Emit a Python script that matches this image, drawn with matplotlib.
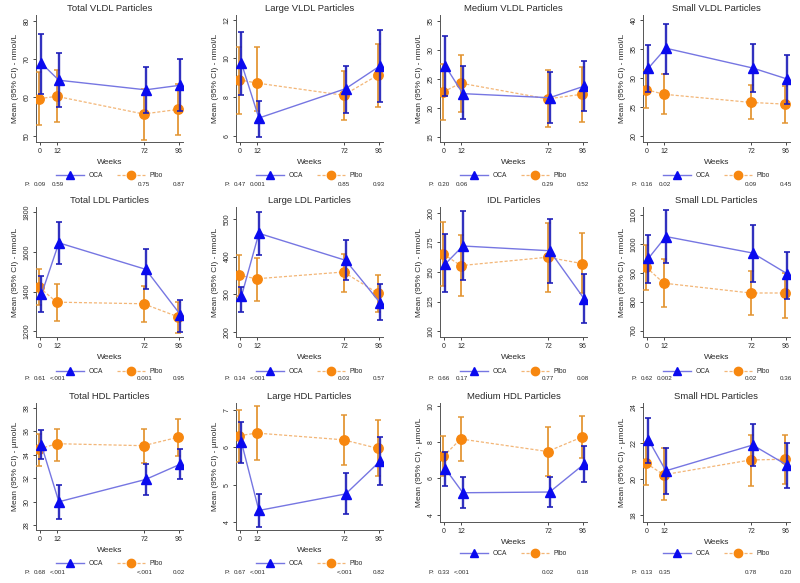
import matplotlib as mpl
mpl.use('Agg')
import matplotlib.pyplot as plt
import matplotlib.transforms as mtransforms
from matplotlib.lines import Line2D

plt.rcParams['font.family'] = ['Liberation Sans', 'DejaVu Sans']

weeks = [0, 12, 72, 96]

titles = ["Total VLDL Particles", "Large VLDL Particles", "Medium VLDL Particles", "Small VLDL Particles",
          "Total LDL Particles", "Large LDL Particles", "IDL Particles", "Small LDL Particles",
          "Total HDL Particles", "Large HDL Particles", "Medium HDL Particles", "Small HDL Particles"]
units = ["nmol/L"] * 8 + ["\u00b5mol/L"] * 4

# OCA: mean, lower CI, upper CI
oca_mean = [[68.9, 64.5, 62.0, 63.2], [9.75, 6.92, 8.44, 9.63], [27.2, 22.5, 21.8, 23.8], [31.7, 35.1, 31.7, 29.8],
            [1387, 1645, 1512, 1284], [295, 462, 390, 276], [157, 172, 168, 127], [950, 1025, 968, 896],
            [34.8, 30.0, 31.9, 33.2], [6.13, 4.32, 4.76, 5.64], [6.52, 5.21, 5.25, 6.80], [22.15, 20.44, 21.87, 20.74]]
oca_lo = [[61.0, 57.6, 56.0, 56.5], [8.1, 5.92, 7.17, 7.73], [22.1, 18.1, 17.5, 19.6], [27.5, 30.7, 27.5, 25.6],
          [1298, 1537, 1413, 1197], [252, 404, 338, 231], [132.7, 142.9, 140.6, 106.5], [864, 934, 869, 809],
          [33.6, 28.57, 30.57, 31.91], [5.57, 3.87, 4.23, 5.01], [5.58, 4.38, 4.44, 5.82], [20.88, 19.18, 20.70, 19.50]]
oca_hi = [[76.5, 71.6, 68.0, 70.1], [11.37, 7.81, 9.63, 11.49], [32.4, 27.3, 26.2, 28.1], [35.7, 39.2, 35.8, 33.9],
          [1476, 1752, 1612, 1360], [319, 520, 443, 326], [181.8, 201.7, 195.2, 148.3], [1031, 1116, 1066, 971],
          [36.1, 31.43, 33.23, 34.49], [6.67, 4.77, 5.32, 6.27], [7.45, 6.06, 6.06, 7.76], [23.36, 21.68, 23.04, 22.0]]

# Placebo: mean, lower CI, upper CI
plb_mean = [[59.7, 60.3, 55.7, 56.9], [8.90, 8.73, 8.10, 9.15], [22.8, 24.3, 21.6, 22.4], [28.0, 27.2, 25.8, 25.5],
            [1421, 1347, 1339, 1273], [350, 341, 359, 302], [165.3, 155.4, 162.5, 157.1], [919, 864, 830, 830],
            [34.49, 34.94, 34.77, 35.49], [6.31, 6.38, 6.20, 5.97], [7.21, 8.17, 7.48, 8.28], [20.85, 20.22, 21.04, 21.08]]
plb_lo = [[52.8, 53.6, 49.0, 50.2], [7.12, 7.29, 6.83, 7.47], [18.0, 19.4, 16.8, 17.6], [24.9, 23.8, 23.0, 22.3],
          [1331, 1250, 1248, 1193], [295, 283, 306, 252], [138.4, 129.3, 133.5, 132.1], [840, 783, 754, 745],
          [33.06, 33.51, 33.34, 33.86], [5.61, 5.66, 5.52, 5.23], [6.14, 6.97, 6.14, 7.15], [19.66, 18.80, 19.57, 19.72]]
plb_hi = [[66.7, 67.1, 62.2, 63.6], [10.61, 10.61, 9.37, 10.76], [27.6, 29.2, 26.6, 27.0], [31.3, 30.7, 28.8, 28.6],
          [1512, 1438, 1430, 1350], [403, 395, 407, 350], [192.3, 181.0, 191.8, 183.2], [997, 948, 905, 899],
          [35.8, 36.2, 36.2, 37.06], [6.99, 7.10, 6.85, 6.72], [8.31, 9.38, 8.81, 9.42], [22.04, 21.68, 22.43, 22.43]]

p_values = [["0.09", "0.59", "0.75", "0.87"], ["0.47", "0.001", "0.85", "0.93"],
            ["0.20", "0.06", "0.29", "0.52"], ["0.16", "0.02", "0.09", "0.45"],
            ["0.61", "<.001", "0.001", "0.95"], ["0.14", "<.001", "0.03", "0.57"],
            ["0.66", "0.17", "0.77", "0.08"], ["0.62", "0.002", "0.02", "0.36"],
            ["0.68", "<.001", "<.001", "0.02"], ["0.67", "<.001", "<.001", "0.82"],
            ["0.33", "<.001", "0.02", "0.18"], ["0.13", "0.35", "0.78", "0.20"]]

yticks = [[50, 60, 70, 80], [6, 8, 10, 12], [15, 20, 25, 30, 35], [20, 25, 30, 35, 40],
          [1200, 1400, 1600, 1800], [200, 300, 400, 500], [100, 125, 150, 175, 200], [700, 800, 900, 1000, 1100],
          [28, 30, 32, 34, 36, 38], [4, 5, 6, 7], [4, 6, 8, 10], [18, 20, 22, 24]]
ylims = [(48.4, 81.5), (5.68, 12.25), (14.2, 36.0), (19.0, 40.8),
         (1172, 1825), (186, 532), (95, 205), (678, 1127),
         (27.6, 38.4), (3.8, 7.18), (3.6, 10.15), (17.6, 24.2)]

W, H = 800.0, 583.0
col_left = [36, 236, 440, 643]
ax_w = 147
row_top = [15, 207, 403]
row_bot = [142, 337, 530]

oca_mk, oca_err, oca_line = "#0a0aef", "#1c1cb8", "#7676e2"
plb_mk, plb_err, plb_line = "#f7870f", "#e39430", "#f3b677"
txt = "#2a2a2a"

fig = plt.figure(figsize=(8, 5.83), dpi=100)

for i in range(12):
    r, c = divmod(i, 4)
    bot = row_bot[r] - (8 if i in (10, 11) else 0)
    ax = fig.add_axes([col_left[c] / W, 1 - bot / H, ax_w / W, (bot - row_top[r]) / H])

    xo = [w + 1.0 for w in weeks]
    xp = [w - 0.5 for w in weeks]
    pm, pl, ph = plb_mean[i], plb_lo[i], plb_hi[i]
    om, ol, oh = oca_mean[i], oca_lo[i], oca_hi[i]

    ax.plot(xp, pm, color=plb_line, lw=0.9, ls=(0, (2.5, 1.5)), zorder=2)
    ax.errorbar(xp, pm, yerr=[[m - l for m, l in zip(pm, pl)], [h - m for m, h in zip(pm, ph)]],
                fmt='none', ecolor=plb_err, elinewidth=1.4, capsize=2.2, capthick=1.2, alpha=0.9, zorder=3)
    ax.plot(xp, pm, 'o', color=plb_mk, ms=6.8, mec=plb_mk, zorder=4)

    ax.plot(xo, om, color=oca_line, lw=1.0, zorder=5)
    ax.errorbar(xo, om, yerr=[[m - l for m, l in zip(om, ol)], [h - m for m, h in zip(om, oh)]],
                fmt='none', ecolor=oca_err, elinewidth=1.7, capsize=2.2, capthick=1.3, alpha=0.9, zorder=6)
    ax.plot(xo, om, '^', color=oca_mk, ms=6.6, mec=oca_mk, zorder=7)

    ax.set_xlim(-2.8, 98.8)
    ax.set_ylim(*ylims[i])
    ax.set_xticks(weeks)
    ax.set_yticks(yticks[i])
    ax.tick_params(axis='both', labelsize=5, colors=txt, length=2.5, width=0.6, pad=1.5)
    ax.tick_params(axis='y', labelrotation=90)
    for lab in ax.get_yticklabels():
        lab.set_va('center')
    for s in ['top', 'right']:
        ax.spines[s].set_visible(False)
    for s in ['left', 'bottom']:
        ax.spines[s].set_color("#555555")
        ax.spines[s].set_linewidth(0.7)

    ax.set_title(titles[i], fontsize=6.8, color=txt, pad=3)
    ax.set_ylabel("Mean (95% CI) - " + units[i], fontsize=6, color=txt, labelpad=3)
    ax.set_xlabel("Weeks", fontsize=6, color=txt, labelpad=3)

    handles = [Line2D([], [], color=oca_line, lw=1.0, marker='^', ms=5.8, mfc=oca_mk, mec=oca_mk),
               Line2D([], [], color=plb_line, lw=0.9, ls=(0, (2.5, 1.5)), marker='o', ms=6, mfc=plb_mk, mec=plb_mk)]
    ax.legend(handles, ["OCA", "Plbo"], loc='center', bbox_to_anchor=(0.5, -0.265), ncol=2, frameon=False,
              fontsize=4.8, handlelength=4.2, columnspacing=2.2, handletextpad=0.6, labelcolor=txt)

    h_ax = bot - row_top[r]
    p_y = -(row_bot[r] - 142 + 184 - bot) / h_ax
    trans = mtransforms.blended_transform_factory(ax.transData, ax.transAxes)
    ax.text(-0.06, p_y, "P:", transform=ax.transAxes, fontsize=4.5, color=txt, ha='center', va='center')
    for w, p in zip(weeks, p_values[i]):
        ax.text(w, p_y, p, transform=trans, fontsize=4.5, color=txt, ha='center', va='center')

fig.savefig("out.png", dpi=100)
